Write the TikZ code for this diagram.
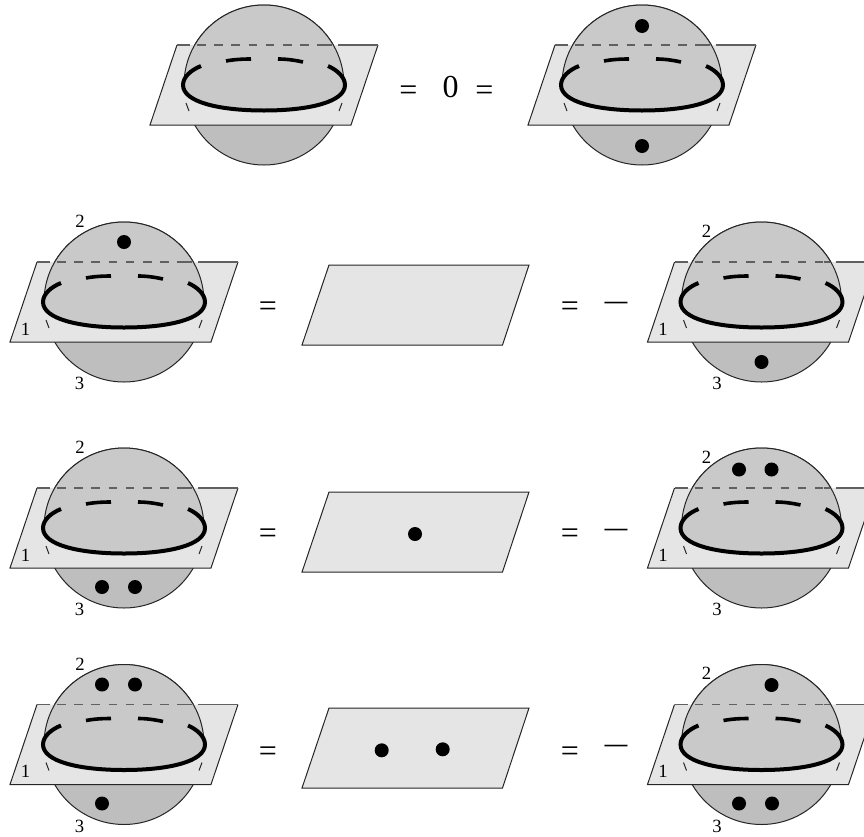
\documentclass[tikz,border=0pt]{standalone}
\usepackage{fontspec}
\setmainfont{Liberation Serif}
\definecolor{upperball}{HTML}{C9C9C9}
\definecolor{lowerball}{HTML}{BEBEBE}
\definecolor{sheet}{HTML}{E5E5E5}
\definecolor{edgegrey}{HTML}{606060}
\tikzset{
  thinedge/.style={line width=.75pt,black!85},
  sheetfill/.style={fill=sheet},
  topedge/.style={line width=1.05pt,edgegrey},
  hiddenedge/.style={line width=1.05pt,edgegrey,dash pattern=on 6.4pt off 6.5pt},
  boldfront/.style={line width=3pt,line cap=butt,black},
  boldback/.style={line width=2.7pt,line cap=butt,black},
  dotmark/.style={fill=black,draw=none},
  digit/.style={font=\fontsize{14}{14}\selectfont,inner sep=0pt,anchor=base},
  bigsym/.style={font=\fontsize{24}{24}\selectfont,inner sep=0pt,anchor=base},
}
\newcommand{\ballbody}[2]{%
  \begin{scope}[shift={(#1,#2)}]
    \fill[lowerball] (0,0) circle [radius=80];
    \draw[thinedge] (0,0) circle [radius=80];
    \fill[sheetfill] (-87,-40) -- (-114,40) -- (87,40) -- (114,-40) -- cycle;
    \draw[thinedge] (-87,-40) -- (-114,40) -- (87,40) -- (114,-40);
    \draw[topedge] (-74,-40) -- (-87,-40);
    \draw[topedge] (74,-40) -- (114,-40);
    \fill[upperball] (-80,0) arc [start angle=180,end angle=360,radius=80]
       .. controls (81,17) and (45,25.5) .. (0,25.5)
       .. controls (-45,25.5) and (-81,17) .. (-80,0) -- cycle;
    \draw[thinedge] (-80,0) arc [start angle=180,end angle=360,radius=80];
    \draw[hiddenedge] (-67,-40) -- (62,-40);
    \draw[topedge] (62,-40) -- (68,-40);
    \draw[thinedge] (-78,18) -- (-75,26);
    \draw[thinedge] (78,18) -- (75,26);
    \draw[boldfront] (-63,-19) .. controls (-73,-15) and (-81,-8) .. (-81,0)
       .. controls (-81,17) and (-45,25.5) .. (0,25.5)
       .. controls (45,25.5) and (81,17) .. (81,0)
       .. controls (81,-8) and (73,-15) .. (64,-19);
    \draw[boldback] (-38,-24) .. controls (-30,-25.5) and (-22,-26) .. (-13,-26);
    \draw[boldback] (14,-26) .. controls (22,-26) and (30,-25) .. (39,-23);
  \end{scope}}
\newcommand{\balllabels}[5]{% x y prefix dx2 dy2
  \node[digit] (#3one) at ({#1-98.5},{#2+33}) {1};
  \node[digit] (#3two) at ({#1+#4},{#2+#5}) {2};
  \node[digit] (#3three) at ({#1-44.5},{#2+87.5}) {3};}
\newcommand{\flatsheet}[2]{% top-left x, top y
  \begin{scope}[shift={(#1,#2)}]
    \filldraw[thinedge,sheetfill] (0,0) -- (200,0) -- (173.5,80) -- (-27,80) -- cycle;
  \end{scope}}
\newcommand{\dotat}[3]{\fill[dotmark] (#1,#2) circle [radius=7];\coordinate (#3) at (#1,#2);}
\begin{document}
\begin{tikzpicture}[x=.75pt,y=-.75pt]
\useasboundingbox (0,0) rectangle (864,836);
\clip (0,0) rectangle (864,836);

% top row
\ballbody{264}{85}
\ballbody{642}{85}
\dotat{642}{26}{ta}
\dotat{642}{146}{tb}
\node[bigsym] (teq1) at (408.3,100.3) {=};
\node[bigsym] (tzero) at (450.7,97) {0};
\node[bigsym] (teq2) at (484.3,100.3) {=};

% second row
\ballbody{124}{302}
\balllabels{124}{302}{bl}{-44}{-74.5}
\dotat{124}{242}{bd}
\flatsheet{329}{265}
\ballbody{761.5}{302}
\balllabels{761.5}{302}{br}{-55}{-65}
\dotat{761.5}{362}{be}
\node[bigsym] (beq1) at (268,316.5) {=};
\node[bigsym] (beq2) at (570,316.5) {=};
\node[bigsym] (bmin) at (616,310.5) {\scalebox{1.4}[1]{–}};

% third row
\ballbody{124}{528}
\balllabels{124}{528}{cl}{-44}{-74.5}
\dotat{102}{587}{ca}
\dotat{135}{587}{cb}
\flatsheet{329}{492}
\dotat{415}{534}{cc}
\ballbody{761.5}{528}
\balllabels{761.5}{528}{cr}{-55}{-65}
\dotat{739}{469.5}{cd}
\dotat{771.5}{469.5}{ce}
\node[bigsym] (ceq1) at (268,543.3) {=};
\node[bigsym] (ceq2) at (570,543.3) {=};
\node[bigsym] (cmin) at (616,537.5) {\scalebox{1.4}[1]{–}};

% fourth row
\ballbody{124}{744.5}
\balllabels{124}{744.5}{dl}{-44}{-74.5}
\dotat{102}{684.5}{da}
\dotat{135}{684.5}{db}
\dotat{102}{803.5}{dc}
\flatsheet{329}{708}
\dotat{381.7}{750.3}{dd}
\dotat{442.7}{749.3}{de}
\ballbody{761.5}{744.5}
\balllabels{761.5}{744.5}{dr}{-55}{-65}
\dotat{771.5}{685}{df}
\dotat{739}{803.5}{dg}
\dotat{772}{803.5}{dh}
\node[bigsym] (deq1) at (268,761) {=};
\node[bigsym] (deq2) at (570,761) {=};
\node[bigsym] (dmin) at (616,753.5) {\scalebox{1.4}[1]{–}};
\end{tikzpicture}
\end{document}
